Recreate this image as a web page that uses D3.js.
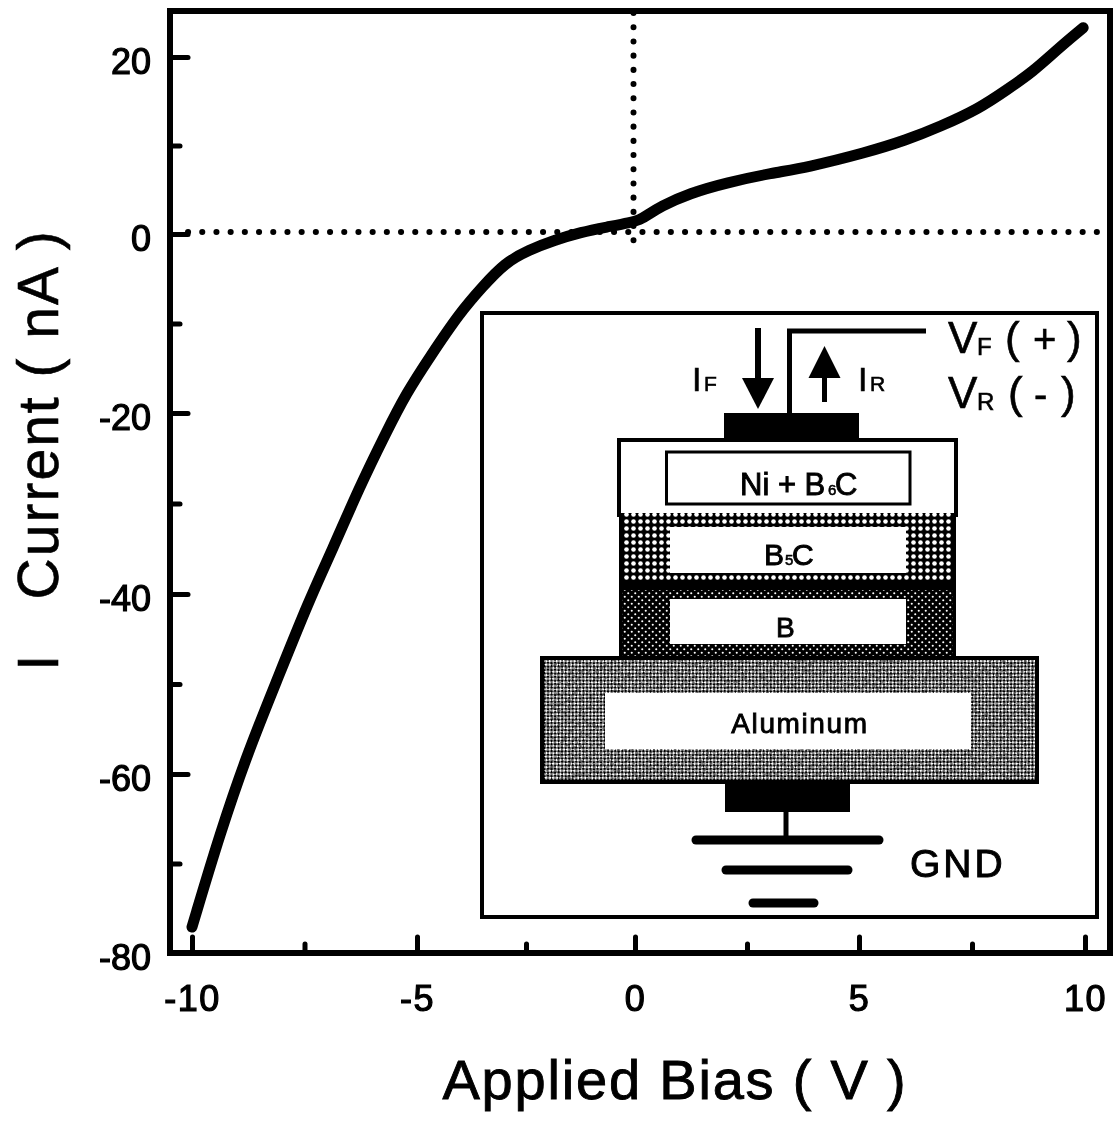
<!DOCTYPE html>
<html>
<head>
<meta charset="utf-8">
<script src="https://cdn.jsdelivr.net/npm/d3@7"></script>
<style>
html,body{margin:0;padding:0;background:#fff;}
svg{display:block;}
text{font-family:"Liberation Sans",Arial,sans-serif;fill:#000;white-space:pre;}
</style>
</head>
<body>
<div id="chart"></div>
<script>
// ---- chart data ----
const biasV = [-10,-9.37,-8.76,-8.13,-7.4,-6.88,-6.28,-5.69,-5.24,-4.7,-4.02,-3.5,-2.98,-2.44,-1.85,-1.24,-0.63,-0.11,0.11,0.27,0.56,1.22,2.04,3.07,3.82,5.16,6.04,6.78,7.67,8.27,8.84,9.44,9.96];
const currentNA = [-77.1,-66.5,-57.6,-49.8,-40.7,-35.1,-28.2,-22.2,-17.8,-13.7,-8.8,-5.9,-3.2,-1.8,-0.7,0.2,0.8,1.3,1.6,2.1,3.1,4.6,5.8,6.9,7.5,9.2,10.6,12.1,14.2,16.3,18.3,21.1,23.3];
const xMajor = [-10,-5,0,5,10];
const xMinor = [-7.5,-2.5,2.5,7.5];
const yMajor = [-80,-60,-40,-20,0,20];
const yMinor = [-70,-50,-30,-10,10];
const xTitle = "Applied Bias ( V )";
const yTitle = "I   Current ( nA )";

const W = 1115, H = 1121;
const frame = {left:170, right:1110, top:11, bottom:953};
const x = d3.scaleLinear().domain(xMajor).range([192,417,635,859,1085]);
const y = d3.scaleLinear().domain(yMajor).range([953,774,594,413,234,57]);

const svg = d3.select("#chart").append("svg").attr("width",W).attr("height",H).attr("viewBox",[0,0,W,H]);
const defs = svg.append("defs");

const soft = defs.append("filter").attr("id","soft").attr("x",0).attr("y",0).attr("width",1).attr("height",1);
soft.append("feGaussianBlur").attr("stdDeviation",0.45);

// hatch patterns of the device layers
const pB5C = defs.append("pattern").attr("id","dotsLarge").attr("patternUnits","userSpaceOnUse").attr("width",7).attr("height",7);
pB5C.append("rect").attr("width",7).attr("height",7).attr("fill","#000");
pB5C.append("circle").attr("cx",3.5).attr("cy",3.5).attr("r",2.3).attr("fill","#fff");
const pB = defs.append("pattern").attr("id","dotsSmall").attr("patternUnits","userSpaceOnUse").attr("width",7).attr("height",7);
pB.append("rect").attr("width",7).attr("height",7).attr("fill","#000");
pB.append("circle").attr("cx",1.75).attr("cy",1.75).attr("r",1.05).attr("fill","#fff");
pB.append("circle").attr("cx",5.25).attr("cy",5.25).attr("r",1.05).attr("fill","#fff");
const pAl = defs.append("pattern").attr("id","dither").attr("patternUnits","userSpaceOnUse").attr("width",5).attr("height",5).attr("patternTransform","rotate(45)");
pAl.append("rect").attr("width",5).attr("height",5).attr("fill","#fff");
pAl.append("rect").attr("width",2.5).attr("height",2.5).attr("fill","#000");
pAl.append("rect").attr("x",2.5).attr("y",2.5).attr("width",2.5).attr("height",2.5).attr("fill","#000");
const noise = defs.append("filter").attr("id","grain").attr("x",0).attr("y",0).attr("width",1).attr("height",1);
noise.append("feTurbulence").attr("type","fractalNoise").attr("baseFrequency",0.3).attr("numOctaves",3).attr("seed",5).attr("result","n");
noise.append("feColorMatrix").attr("in","n").attr("type","matrix")
  .attr("values","0 0 0 0 0  0 0 0 0 0  0 0 0 0 0  5 0 0 0 -2.4");

const root = svg.append("g").attr("filter","url(#soft)");
root.append("rect").attr("width",W).attr("height",H).attr("fill","#fff");

// ---- axes ----
function styleAxis(g, size){
  g.select(".domain").remove();
  g.selectAll(".tick line").attr("stroke","#000").attr("stroke-width",5).attr("stroke-linecap","round");
  g.selectAll(".tick text").attr("font-size",size).attr("stroke","#000").attr("stroke-width",1.2);
}
root.append("g").attr("transform",`translate(0,${frame.bottom})`)
  .call(d3.axisBottom(x).tickValues(xMajor).tickSizeInner(-16).tickSizeOuter(0).tickPadding(32).tickFormat(d=>String(d)))
  .call(g=>styleAxis(g,36)).call(g=>g.selectAll(".tick text").attr("letter-spacing",1.5));
root.append("g").attr("transform",`translate(0,${frame.bottom})`)
  .call(d3.axisBottom(x).tickValues(xMinor).tickSizeInner(-9).tickSizeOuter(0).tickFormat(""))
  .call(g=>styleAxis(g,36));
root.append("g").attr("transform",`translate(${frame.left},0)`)
  .call(d3.axisLeft(y).tickValues(yMajor).tickSizeInner(-18).tickSizeOuter(0).tickPadding(19).tickFormat(d=>String(d)))
  .call(g=>styleAxis(g,36)).call(g=>g.selectAll(".tick text").attr("dy","0.47em"));
root.append("g").attr("transform",`translate(${frame.left},0)`)
  .call(d3.axisLeft(y).tickValues(yMinor).tickSizeInner(-10).tickSizeOuter(0).tickFormat(""))
  .call(g=>styleAxis(g,36));

// frame
root.append("rect").attr("x",frame.left).attr("y",frame.top)
  .attr("width",frame.right-frame.left).attr("height",frame.bottom-frame.top)
  .attr("fill","none").attr("stroke","#000").attr("stroke-width",6);

// dotted zero lines
const dotted = {stroke:"#000","stroke-width":6,"stroke-linecap":"round","stroke-dasharray":"0.1 14.1",fill:"none"};
const dh = root.append("line").attr("x1",frame.left+18).attr("x2",frame.right-6).attr("y1",y(0)-2).attr("y2",y(0)-2);
const dv = root.append("line").attr("x1",x(0)-1.5).attr("x2",x(0)-1.5).attr("y1",frame.top+2).attr("y2",y(0)+15);
[dh,dv].forEach(s=>Object.entries(dotted).forEach(([k,v])=>s.attr(k,v)));

// I-V curve
const line = d3.line().x(d=>x(d[0])).y(d=>y(d[1])).curve(d3.curveBasis);
root.append("path").datum(biasV.map((v,i)=>[v,currentNA[i]]))
  .attr("d",line).attr("fill","none").attr("stroke","#000").attr("stroke-width",11).attr("stroke-linecap","round").attr("stroke-linejoin","round");

// titles
root.append("text").attr("x",675).attr("y",1099).attr("text-anchor","middle")
  .attr("font-size",56).attr("letter-spacing",1.8).attr("stroke","#000").attr("stroke-width",0.9).text(xTitle);
root.append("text").attr("transform","translate(58,450) rotate(-90)").attr("text-anchor","middle")
  .attr("font-size",57).attr("letter-spacing",2).attr("stroke","#000").attr("stroke-width",0.6).text(yTitle);

// ---- inset: device cross-section ----
const inset = root.append("g");
function box(x0,y0,x1,y1,fill,sw){
  return inset.append("rect").attr("x",x0).attr("y",y0).attr("width",x1-x0).attr("height",y1-y0)
    .attr("fill",fill).attr("stroke",sw?"#000":"none").attr("stroke-width",sw||0);
}
function seg(x0,y0,x1,y1,sw,cap){
  inset.append("line").attr("x1",x0).attr("y1",y0).attr("x2",x1).attr("y2",y1)
    .attr("stroke","#000").attr("stroke-width",sw).attr("stroke-linecap",cap||"butt");
}
function label(px,py,str,size,opt){
  opt=opt||{};
  return inset.append("text").attr("x",px).attr("y",py).attr("font-size",size)
    .attr("text-anchor",opt.anchor||"start").attr("letter-spacing",opt.ls||0)
    .attr("stroke","#000").attr("stroke-width",opt.sw===undefined?0.6:opt.sw).text(str);
}
box(482,313,1097,917,"#fff",4);
// top contact and stack
box(724,413,859,441,"#000");
box(619,440,956,515,"#fff",4);
box(666.5,452,910,504,"#fff",3);
box(619,513,956,590,"url(#dotsLarge)");
box(619,513,622,590,"#000"); box(953,513,956,590,"#000");
box(619,582,956,592,"#000");
box(670,527,906,573,"#fff");
box(619,590,956,660,"url(#dotsSmall)");
box(619,590,622,660,"#000"); box(953,590,956,660,"#000");
box(670,599,906,644,"#fff");
// aluminium
box(542,658,1037,782,"url(#dither)");
inset.append("rect").attr("x",542).attr("y",658).attr("width",495).attr("height",124).attr("filter","url(#grain)").attr("opacity",0.4);
box(542,658,1037,782,"none",4);
box(605,693,971,749,"#fff");
// bottom contact and ground
box(725,782,850,812,"#000");
seg(786,812,786,840,5);
seg(696,840,879,840,9,"round");
seg(726,870,848,870,9,"round");
seg(753,903,814,903,9,"round");
// wire and arrows
inset.append("path").attr("d","M789.5,413V331H926").attr("fill","none").attr("stroke","#000").attr("stroke-width",5);
seg(758,328,758,380,6);
inset.append("path").attr("d","M742,378H774L758,409Z").attr("fill","#000");
seg(824.5,402,824.5,376,5);
inset.append("path").attr("d","M808.5,378H840.5L824.5,346Z").attr("fill","#000");
// inset text
label(948,353,"V",44);
label(977,355,"F",24);
label(1005,353,"(",44);
label(1033,353,"+",40);
label(1067,353,")",44);
label(948,408,"V",44);
label(977,410,"R",24);
label(1008,408,"(",44);
label(1034,408,"-",40);
label(1061,408,")",44);
label(692,391,"I",34);
label(704,391,"F",21);
label(858,391,"I",34);
label(870,391,"R",21);
label(910,877,"GND",39,{ls:3,sw:1});
label(800,733,"Aluminum",28,{anchor:"middle",ls:1.6,sw:0.9});
label(740,495,"Ni + B",31,{sw:0.9});
label(828,495,"6",15,{sw:0.6});
label(835,495,"C",31,{sw:0.9});
label(764,565,"B",30,{sw:0.9});
label(785,565,"5",15,{sw:0.6});
label(792,565,"C",30,{sw:0.9});
label(776,637,"B",28,{sw:0.9});
</script>
</body>
</html>
